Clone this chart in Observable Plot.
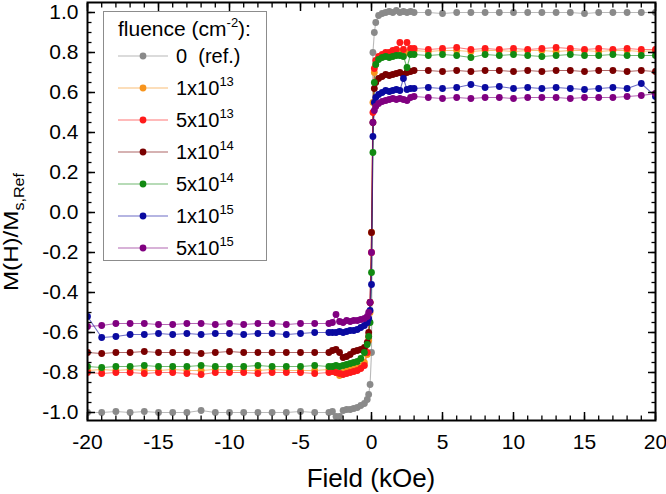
<!DOCTYPE html>
<html><head><meta charset="utf-8">
<script src="https://cdn.jsdelivr.net/npm/d3@7"></script>
<script src="https://cdn.jsdelivr.net/npm/@observablehq/plot@0.6"></script>
<style>body{margin:0;background:#fff}#chart{width:666px;height:494px}</style>
</head><body><div id="chart"></div>
<script>
const FONT = "'Liberation Sans', Arial, Helvetica, sans-serif";

const field = [-20,-19,-18,-17,-16,-15,-14,-13,-12,-11,-10,-9,-8,-7,-6,-5,-4,-3,
  -2.75,-2.5,-2.25,-2,-1.75,-1.5,-1.25,-1,-0.75,-0.5,-0.3,-0.2,-0.1,0,0.1,0.2,0.3,0.5,0.75,1,1.25,1.5,1.75,2,2.25,2.5,2.75,
  3,4,5,6,7,8,9,10,11,12,13,14,15,16,17,18,19,20];

const mRef = [-1.0,-1.0,-0.995,-1.0,-0.995,-1.0,-1.0,-1.0,-0.99,-1.0,-1.0,-1.0,-1.0,-1.0,-1.0,-0.995,-1.0,-1.0,
  -0.995,-1.02,-1.02,-0.99,-0.985,-0.985,-0.98,-0.975,-0.965,-0.955,-0.935,-0.91,-0.86,-0.7,0.8,0.9,0.95,0.985,0.995,1.0,1.005,1.0,1.01,1.0,1.005,1.0,1.005,
  1.0,1.0,0.995,1.0,1.0,1.0,1.0,1.0,1.0,1.0,1.0,1.0,0.995,1.0,1.0,1.0,1.0,1.0];
const m1e13 = [-0.79,-0.785,-0.79,-0.785,-0.79,-0.79,-0.785,-0.79,-0.79,-0.785,-0.79,-0.79,-0.79,-0.785,-0.79,-0.79,-0.79,-0.785,
  -0.78,-0.8,-0.815,-0.8,-0.79,-0.785,-0.78,-0.775,-0.77,-0.75,-0.71,-0.64,-0.5,-0.1,0.55,0.7,0.74,0.77,0.78,0.785,0.79,0.795,0.8,0.805,0.8,0.8,0.805,
  0.81,0.805,0.81,0.81,0.805,0.81,0.81,0.805,0.81,0.81,0.805,0.81,0.81,0.805,0.81,0.81,0.805,0.81];
const m5e13 = [-0.8,-0.805,-0.8,-0.8,-0.805,-0.8,-0.8,-0.805,-0.81,-0.8,-0.8,-0.8,-0.805,-0.8,-0.8,-0.8,-0.805,-0.8,
  -0.795,-0.8,-0.805,-0.81,-0.805,-0.8,-0.795,-0.79,-0.78,-0.765,-0.7,-0.62,-0.45,-0.2,0.5,0.72,0.76,0.78,0.79,0.8,0.8,0.81,0.815,0.85,0.815,0.85,0.82,
  0.82,0.815,0.82,0.825,0.815,0.82,0.815,0.82,0.815,0.82,0.825,0.82,0.815,0.82,0.815,0.82,0.815,0.815];
const m1e14 = [-0.7,-0.705,-0.7,-0.7,-0.695,-0.7,-0.7,-0.7,-0.705,-0.7,-0.695,-0.7,-0.7,-0.7,-0.7,-0.7,-0.7,-0.7,
  -0.69,-0.685,-0.7,-0.725,-0.72,-0.71,-0.695,-0.69,-0.685,-0.675,-0.65,-0.6,-0.45,-0.1,0.45,0.62,0.65,0.67,0.68,0.69,0.685,0.69,0.695,0.7,0.69,0.7,0.705,
  0.71,0.71,0.705,0.71,0.705,0.71,0.71,0.705,0.71,0.705,0.71,0.71,0.705,0.71,0.71,0.705,0.71,0.705];
const m5e14 = [-0.77,-0.775,-0.77,-0.77,-0.765,-0.77,-0.77,-0.77,-0.765,-0.77,-0.77,-0.77,-0.765,-0.77,-0.77,-0.77,-0.765,-0.77,
  -0.77,-0.765,-0.77,-0.765,-0.76,-0.755,-0.75,-0.745,-0.73,-0.7,-0.66,-0.62,-0.55,-0.3,0.3,0.65,0.74,0.765,0.775,0.78,0.775,0.78,0.785,0.785,0.78,0.725,0.79,
  0.79,0.785,0.79,0.785,0.775,0.79,0.785,0.79,0.785,0.78,0.785,0.79,0.785,0.785,0.79,0.785,0.785,0.785];
const m1e15 = [-0.52,-0.625,-0.62,-0.61,-0.61,-0.605,-0.61,-0.605,-0.61,-0.605,-0.605,-0.61,-0.605,-0.605,-0.61,-0.605,-0.6,-0.6,
  -0.6,-0.6,-0.595,-0.6,-0.595,-0.59,-0.59,-0.585,-0.575,-0.565,-0.55,-0.53,-0.49,-0.36,0.38,0.55,0.575,0.59,0.6,0.61,0.605,0.61,0.615,0.61,0.67,0.615,0.62,
  0.62,0.625,0.62,0.625,0.64,0.625,0.63,0.62,0.625,0.62,0.625,0.62,0.615,0.62,0.625,0.62,0.645,0.58];
const m5e15 = [-0.57,-0.565,-0.555,-0.555,-0.555,-0.56,-0.56,-0.555,-0.555,-0.56,-0.555,-0.56,-0.555,-0.555,-0.56,-0.555,-0.555,-0.555,
  -0.55,-0.51,-0.545,-0.55,-0.54,-0.545,-0.54,-0.54,-0.535,-0.53,-0.52,-0.5,-0.45,-0.2,0.45,0.51,0.53,0.545,0.555,0.56,0.565,0.57,0.565,0.57,0.565,0.56,0.575,
  0.58,0.575,0.57,0.575,0.57,0.575,0.575,0.57,0.575,0.575,0.575,0.57,0.575,0.575,0.575,0.58,0.585,0.595];

const seriesKeys = ["ref", "1e13", "5e13", "1e14", "5e14", "1e15", "5e15"];
const seriesValues = [mRef, m1e13, m5e13, m1e14, m5e14, m1e15, m5e15];
const seriesColors = ["#8a8a8a", "#f7941d", "#ff1a1a", "#7a0000", "#118a11", "#0a0aa0", "#800080"];
const legendBase = ["0\u00A0 (ref.)", "1x10", "5x10", "1x10", "5x10", "1x10", "5x10"];
const legendExp = ["", "13", "13", "14", "14", "15", "15"];

const xMajor = [-20, -15, -10, -5, 0, 5, 10, 15, 20];
const xMinor = [-20,-19,-18,-17,-16,-15,-14,-13,-12,-11,-10,-9,-8,-7,-6,-5,-4,-3,-2,-1,0,1,2,3,4,5,6,7,8,9,10,11,12,13,14,15,16,17,18,19,20];
const yMajor = [-1.0, -0.8, -0.6, -0.4, -0.2, 0.0, 0.2, 0.4, 0.6, 0.8, 1.0];
const yMinor = [-1.0,-0.95,-0.9,-0.85,-0.8,-0.75,-0.7,-0.65,-0.6,-0.55,-0.5,-0.45,-0.4,-0.35,-0.3,-0.25,-0.2,-0.15,-0.1,-0.05,0,0.05,0.1,0.15,0.2,0.25,0.3,0.35,0.4,0.45,0.5,0.55,0.6,0.65,0.7,0.75,0.8,0.85,0.9,0.95,1.0];

const rows = [];
seriesKeys.forEach((k, i) => field.forEach((h, j) => rows.push({H: h, M: seriesValues[i][j], s: k})));

const blank = () => "";
const plot = Plot.plot({
  width: 666, height: 494,
  marginLeft: 87, marginRight: 11, marginTop: 2, marginBottom: 74,
  x: {domain: [-20, 20]},
  y: {domain: [-1.04, 1.05]},
  color: {domain: seriesKeys, range: seriesColors},
  style: {fontFamily: FONT, fontSize: "21px", color: "#000", background: "#fff"},
  marks: [
    Plot.line(rows, {x: "H", y: "M", z: "s", stroke: "s", strokeWidth: 1.1, strokeOpacity: 0.6, clip: true}),
    Plot.dot(rows, {x: "H", y: "M", fill: "s", r: 3.4, clip: true}),
    Plot.axisX(xMinor, {anchor: "bottom", tickSize: -4.5, tickFormat: blank, label: null, strokeWidth: 1.3}),
    Plot.axisX(xMinor, {anchor: "top", tickSize: -4.5, tickFormat: blank, label: null, strokeWidth: 1.3}),
    Plot.axisX(xMajor, {anchor: "bottom", tickSize: -8, tickFormat: blank, label: null, strokeWidth: 1.5}),
    Plot.axisX(xMajor, {anchor: "top", tickSize: -8, tickFormat: blank, label: null, strokeWidth: 1.5}),
    Plot.axisX(xMajor, {anchor: "bottom", tickSize: 0, tickPadding: 14, tickFormat: d => String(d), label: null, fontSize: 21}),
    Plot.axisY(yMinor, {anchor: "left", tickSize: -4.5, tickFormat: blank, label: null, strokeWidth: 1.3}),
    Plot.axisY(yMinor, {anchor: "right", tickSize: -4.5, tickFormat: blank, label: null, strokeWidth: 1.3}),
    Plot.axisY(yMajor, {anchor: "left", tickSize: -8, tickFormat: blank, label: null, strokeWidth: 1.5}),
    Plot.axisY(yMajor, {anchor: "right", tickSize: -8, tickFormat: blank, label: null, strokeWidth: 1.5}),
    Plot.axisY(yMajor, {anchor: "left", tickSize: 0, tickPadding: 9, tickFormat: d => d.toFixed(1), label: null, fontSize: 21}),
    Plot.frame({stroke: "#000", strokeWidth: 2})
  ]
});
document.getElementById("chart").appendChild(plot);

const svg = d3.select(plot);
// axis titles
svg.append("text").attr("x", 371).attr("y", 487).attr("text-anchor", "middle")
  .attr("font-family", FONT).attr("font-size", 26).attr("fill", "#000").text("Field (kOe)");
const yl = svg.append("text").attr("transform", "translate(18,232) rotate(-90) scale(1.15,1)")
  .attr("text-anchor", "middle").attr("font-family", FONT).attr("font-size", 21).attr("fill", "#000");
yl.append("tspan").text("M(H)/M");
yl.append("tspan").attr("dy", 6).attr("font-size", 14).text("s,Ref");

// legend
const lg = svg.append("g").attr("font-family", FONT).attr("fill", "#000").attr("text-anchor", "start");
lg.append("rect").attr("x", 103.5).attr("y", 11.5).attr("width", 163).attr("height", 249)
  .attr("fill", "#fff").attr("stroke", "#8c8c8c").attr("stroke-width", 1);
const tt = lg.append("text").attr("x", 118).attr("y", 36).attr("font-size", 21);
tt.append("tspan").text("fluence (cm");
tt.append("tspan").attr("dy", -9).attr("font-size", 13).text("-2");
tt.append("tspan").attr("dy", 9).attr("font-size", 21).text("):");
seriesKeys.forEach((k, i) => {
  const cy = 56 + i * 32;
  lg.append("line").attr("x1", 118).attr("x2", 168).attr("y1", cy).attr("y2", cy)
    .attr("stroke", seriesColors[i]).attr("stroke-opacity", 0.6).attr("stroke-width", 1.1);
  lg.append("circle").attr("cx", 143).attr("cy", cy).attr("r", 3.4).attr("fill", seriesColors[i]);
  const t = lg.append("text").attr("x", 176).attr("y", cy + 7).attr("font-size", 20).style("white-space", "pre");
  t.append("tspan").text(legendBase[i]);
  if (legendExp[i]) t.append("tspan").attr("dy", -9).attr("font-size", 13).text(legendExp[i]);
});
</script>
</body></html>
